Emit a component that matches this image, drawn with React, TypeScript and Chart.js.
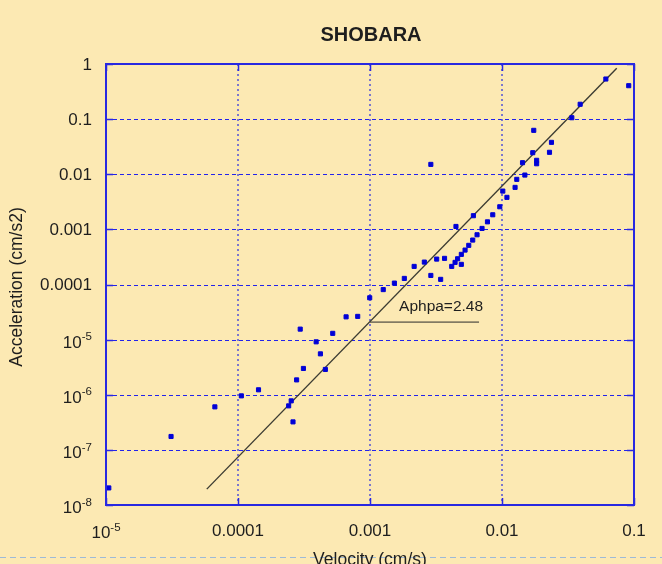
import React, { useEffect, useRef } from "react";
import { Chart, registerables } from "chart.js";

Chart.register(...registerables);

// ---------- data ----------
const velocity = [
  0.0612, 0.0912, 0.0391, 0.0338, 0.0174, 0.0237, 0.0171, 0.0229, 0.0183, 0.0183,
  0.0143, 0.00289, 0.0149, 0.01294, 0.01256, 0.01014, 0.0109, 0.00962, 0.00851, 0.00607,
  0.00776, 0.00706, 0.00448, 0.00647, 0.006, 0.0056, 0.00525, 0.00492, 0.00461, 0.00441,
  0.00416, 0.00492, 0.00367, 0.0032, 0.00258, 0.00216, 0.00289, 0.00343, 0.00182, 0.00153,
  0.00126, 0.000995, 0.000659, 0.000807, 0.000296, 0.000522, 0.000391, 0.000421, 0.000313, 0.000459,
  0.000278, 0.000143, 0.000106, 0.000253, 0.000242, 6.68e-5, 0.000261, 3.11e-5, 1.05e-5,
];
const acceleration = [
  0.534, 0.404, 0.186, 0.106, 0.0626, 0.0379, 0.0246, 0.025, 0.0179, 0.0155,
  0.0162, 0.0151, 0.00967, 0.00808, 0.00578, 0.00495, 0.00381, 0.00257, 0.00184, 0.00177,
  0.00137, 0.00104, 0.00113, 0.000798, 0.00064, 0.000513, 0.000421, 0.000352, 0.000293, 0.000252,
  0.000213, 0.000232, 0.000298, 0.000289, 0.000255, 0.000213, 0.000146, 0.000124, 0.000129, 0.000106,
  8.08e-5, 5.74e-5, 2.59e-5, 2.64e-5, 1.55e-5, 1.3e-5, 9.12e-6, 5.52e-6, 3.0e-6, 2.88e-6,
  1.86e-6, 1.23e-6, 9.55e-7, 7.75e-7, 6.29e-7, 6.03e-7, 3.22e-7, 1.75e-7, 2.04e-8,
];

// fitted power-law line (slope 2.48 in log-log)
const fitX = [5.8e-5, 0.074];
const fitY = [1.94e-8, 0.836];

// annotation
const annotLineX = [0.001, 0.0067];
const annotLineY = [2.08e-5, 2.08e-5];
const annotText = "Aphpa=2.48";
const annotTextX = 0.00166;
const annotTextY = 3.33e-5;

const xTicks = [1e-5, 1e-4, 1e-3, 1e-2, 1e-1];
const xTickLabels = ["10^-5", "0.0001", "0.001", "0.01", "0.1"];
const yTicks = [1, 0.1, 0.01, 0.001, 0.0001, 1e-5, 1e-6, 1e-7, 1e-8];
const yTickLabels = ["1", "0.1", "0.01", "0.001", "0.0001", "10^-5", "10^-6", "10^-7", "10^-8"];

const titleText = "SHOBARA";
const xTitle = "Velocity (cm/s)";
const yTitle = "Acceleration (cm/s2)";

// ---------- styles ----------
const BG = "#fce9b3";
const FONT = "'Liberation Sans', Arial, Helvetica, sans-serif";
const TEXT = "#1e1e1e";
const TICK_FONT = 17;
const EXP_FONT = 11.5;

function drawLabel(
  ctx: CanvasRenderingContext2D,
  label: string,
  x: number,
  y: number,
  align: "right" | "center"
) {
  const parts = label.split("^");
  ctx.textBaseline = "middle";
  if (parts.length === 1) {
    ctx.font = `${TICK_FONT}px ${FONT}`;
    ctx.textAlign = align;
    ctx.fillText(label, x, y);
    return;
  }
  const [base, exp] = parts;
  ctx.font = `${TICK_FONT}px ${FONT}`;
  const bw = ctx.measureText(base).width;
  ctx.font = `${EXP_FONT}px ${FONT}`;
  const ew = ctx.measureText(exp).width;
  const total = bw + ew;
  const start = align === "right" ? x - total : x - total / 2;
  ctx.textAlign = "left";
  ctx.font = `${TICK_FONT}px ${FONT}`;
  ctx.fillText(base, start, y + 2.5);
  ctx.font = `${EXP_FONT}px ${FONT}`;
  ctx.fillText(exp, start + bw, y - 3.5);
}

const customPlugin = {
  id: "customDecor",
  beforeDraw(chart: any) {
    const ctx = chart.ctx as CanvasRenderingContext2D;
    ctx.save();
    ctx.fillStyle = BG;
    ctx.fillRect(0, 0, chart.width, chart.height);
    ctx.strokeStyle = "#9dbad8";
    ctx.lineWidth = 1;
    ctx.setLineDash([6, 4]);
    ctx.beginPath();
    ctx.moveTo(0, 557.5);
    ctx.lineTo(chart.width, 557.5);
    ctx.stroke();
    ctx.restore();
  },
  beforeDatasetsDraw(chart: any) {
    const ctx = chart.ctx as CanvasRenderingContext2D;
    const { left, right, top, bottom } = chart.chartArea;
    const xs = chart.scales.x;
    const ys = chart.scales.y;
    ctx.save();
    // horizontal grid: blue dash
    ctx.strokeStyle = "rgb(35,35,235)";
    ctx.lineWidth = 1;
    ctx.setLineDash([4, 3]);
    ctx.beginPath();
    yTicks.forEach((v) => {
      const py = Math.round(ys.getPixelForValue(v)) + 0.5;
      ctx.moveTo(left, py);
      ctx.lineTo(right, py);
    });
    ctx.stroke();
    // vertical grid: dotted lavender
    ctx.strokeStyle = "rgba(80,80,215,0.75)";
    ctx.lineWidth = 2;
    ctx.setLineDash([2, 3]);
    ctx.beginPath();
    xTicks.forEach((v) => {
      const px = Math.round(xs.getPixelForValue(v));
      ctx.moveTo(px, top);
      ctx.lineTo(px, bottom);
    });
    ctx.stroke();
    ctx.restore();
  },
  afterDraw(chart: any) {
    const ctx = chart.ctx as CanvasRenderingContext2D;
    const { left, right, top, bottom } = chart.chartArea;
    const xs = chart.scales.x;
    const ys = chart.scales.y;
    ctx.save();

    // frame
    ctx.strokeStyle = "rgb(40,40,225)";
    ctx.lineWidth = 2;
    ctx.setLineDash([]);
    ctx.strokeRect(left, top, right - left, bottom - top);

    // inward tick marks
    ctx.lineWidth = 1.5;
    ctx.beginPath();
    yTicks.forEach((v) => {
      const py = Math.round(ys.getPixelForValue(v)) + 0.5;
      ctx.moveTo(left, py);
      ctx.lineTo(left + 7, py);
      ctx.moveTo(right, py);
      ctx.lineTo(right - 7, py);
    });
    xTicks.forEach((v) => {
      const px = Math.round(xs.getPixelForValue(v)) + 0.5;
      ctx.moveTo(px, bottom);
      ctx.lineTo(px, bottom - 7);
      ctx.moveTo(px, top);
      ctx.lineTo(px, top + 7);
    });
    ctx.stroke();

    // tick labels
    ctx.fillStyle = TEXT;
    yTicks.forEach((v, i) => {
      drawLabel(ctx, yTickLabels[i], 92, ys.getPixelForValue(v) + 1, "right");
    });
    xTicks.forEach((v, i) => {
      drawLabel(ctx, xTickLabels[i], xs.getPixelForValue(v), 531, "center");
    });

    // title
    ctx.font = `bold 20px ${FONT}`;
    ctx.textAlign = "center";
    ctx.textBaseline = "middle";
    ctx.fillText(titleText, 371, 35);

    // axis titles
    ctx.font = `17.5px ${FONT}`;
    ctx.textAlign = "center";
    ctx.textBaseline = "alphabetic";
    ctx.fillText(xTitle, (left + right) / 2, 565);

    ctx.save();
    ctx.translate(17.5, 287);
    ctx.rotate(-Math.PI / 2);
    ctx.textBaseline = "middle";
    ctx.fillText(yTitle, 0, 0);
    ctx.restore();

    // annotation text
    ctx.font = `15.5px ${FONT}`;
    ctx.textAlign = "left";
    ctx.textBaseline = "alphabetic";
    ctx.fillText(annotText, xs.getPixelForValue(annotTextX), ys.getPixelForValue(annotTextY));

    ctx.restore();
  },
};

export default function App() {
  const canvasRef = useRef<HTMLCanvasElement | null>(null);

  useEffect(() => {
    document.body.style.margin = "0";
    document.body.style.background = BG;
    const canvas = canvasRef.current;
    if (!canvas) return;

    const points = velocity.map((x, i) => ({ x, y: acceleration[i] }));
    const fit = fitX.map((x, i) => ({ x, y: fitY[i] }));
    const annot = annotLineX.map((x, i) => ({ x, y: annotLineY[i] }));

    const chart = new Chart(canvas, {
      type: "scatter",
      data: {
        datasets: [
          {
            type: "line",
            data: fit,
            borderColor: "#3c3c32",
            borderWidth: 1.4,
            pointRadius: 0,
            showLine: true,
            fill: false,
            order: 2,
          } as any,
          {
            type: "line",
            data: annot,
            borderColor: "#2a2a2a",
            borderWidth: 1,
            pointRadius: 0,
            showLine: true,
            fill: false,
            order: 3,
          } as any,
          {
            type: "scatter",
            data: points,
            backgroundColor: "rgb(0,0,215)",
            borderColor: "rgb(0,0,215)",
            borderWidth: 1,
            pointStyle: "rect",
            pointRadius: 2.9,
            order: 1,
          } as any,
        ],
      },
      options: {
        responsive: false,
        animation: false,
        devicePixelRatio: 1,
        layout: { padding: { top: 64, right: 28, left: 0, bottom: 0 } },
        plugins: {
          legend: { display: false },
          tooltip: { enabled: false },
          title: { display: false },
        },
        scales: {
          x: {
            type: "logarithmic",
            min: 1e-5,
            max: 0.1,
            afterBuildTicks: (s: any) => {
              s.ticks = xTicks.map((value) => ({ value }));
            },
            afterFit: (s: any) => {
              s.height = 59;
            },
            ticks: { display: false },
            grid: { display: false },
            border: { display: false },
          },
          y: {
            type: "logarithmic",
            min: 1e-8,
            max: 1,
            afterBuildTicks: (s: any) => {
              s.ticks = yTicks.map((value) => ({ value }));
            },
            afterFit: (s: any) => {
              s.width = 106;
            },
            ticks: { display: false },
            grid: { display: false },
            border: { display: false },
          },
        },
      } as any,
      plugins: [customPlugin],
    });

    return () => chart.destroy();
  }, []);

  return (
    <canvas
      ref={canvasRef}
      width={662}
      height={564}
      style={{ display: "block", width: 662, height: 564 }}
    />
  );
}
